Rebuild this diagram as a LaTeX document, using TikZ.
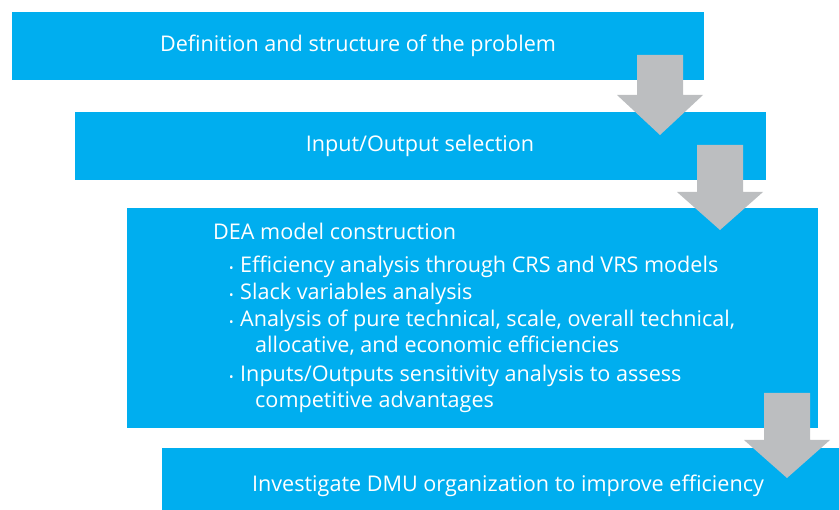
\documentclass[tikz,border=0pt]{standalone}
\usepackage{fontspec}
\setmainfont{Open Sans}
\definecolor{boxblue}{HTML}{00AEEF}
\definecolor{arrowgray}{HTML}{BCBEC0}
\begin{document}
\begin{tikzpicture}[x=1pt,y=-1pt,
  stage/.style={fill=boxblue,draw=none,inner sep=0pt,anchor=north west},
  txt/.style={text=white,font=\fontsize{21.6}{26}\selectfont,inner sep=0pt},
  line/.style={txt,anchor=base west}]
\useasboundingbox (0,0) rectangle (839,510);
\clip (0,0) rectangle (839,510);
% boxes
\node[stage,minimum width=692pt,minimum height=68pt] (b1) at (12,12) {};
\node[stage,minimum width=691pt,minimum height=68pt] (b2) at (75,112) {};
\node[stage,minimum width=691pt,minimum height=220pt] (b3) at (127,208) {};
\node[stage,minimum width=700pt,minimum height=80pt] (b4) at (162,448) {};
% texts
\node[txt,anchor=base] (t1) at (358,52) {Definition and structure of the problem};
\node[txt,anchor=base] (t2) at (420,152) {Input/Output selection};
\node[line] (t3) at (213,240) {DEA model construction};
\newcommand\bul{{\fontsize{12}{12}\selectfont•}\hspace{6.5pt}}
\node[line] (l1) at (229,273) {\bul Efficiency analysis through CRS and VRS models};
\node[line] (l2) at (229,300) {\bul Slack variables analysis};
\node[line] (l3) at (229,327) {\bul Analysis of pure technical, scale, overall technical,};
\node[line] (l4) at (255,353) {allocative, and economic efficiencies};
\node[line] (l5) at (229,382) {\bul Inputs/Outputs sensitivity analysis to assess};
\node[line] (l6) at (255,408) {competitive advantages};
\node[txt,anchor=base] (t4) at (508,492) {Investigate DMU organization to improve efficiency};
% block arrows
\newcommand\blockarrow[4]{% center x, shaft top, head start, tip
  \fill[arrowgray] (#1-23,#2) -- (#1+23,#2) -- (#1+23,#3) -- (#1+43,#3)
    -- (#1,#4) -- (#1-43,#3) -- (#1-23,#3) -- cycle;}
\blockarrow{660}{55}{95}{135}
\blockarrow{720}{145}{192}{230}
\blockarrow{787}{393}{440}{478}
\end{tikzpicture}
\end{document}
